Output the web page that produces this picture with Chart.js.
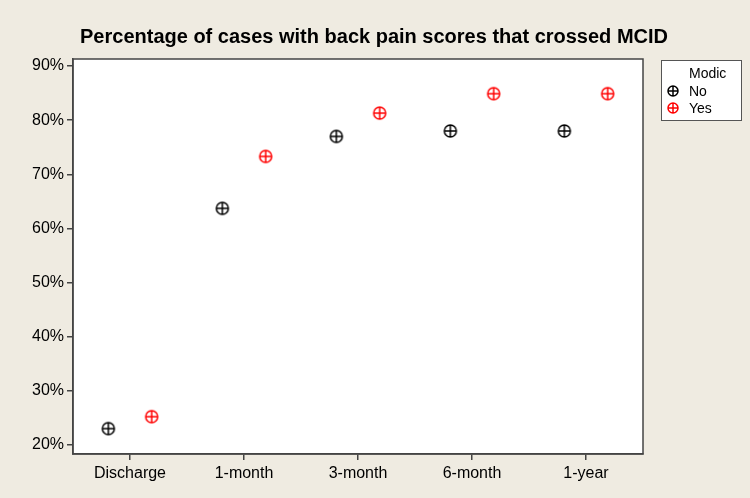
<!DOCTYPE html>
<html>
<head>
<meta charset="utf-8">
<script src="https://cdn.jsdelivr.net/npm/chart.js@4/dist/chart.umd.min.js"></script>
<style>
  html, body { margin: 0; padding: 0; background: #EFEBE1; }
  #wrap { width: 750px; height: 498px; }
</style>
</head>
<body>
<div id="wrap"><canvas id="chart" width="750" height="498"></canvas></div>
<script>
// --- Data ---
const categories = ['Discharge', '1-month', '3-month', '6-month', '1-year'];
const noValues = [23.0, 63.7, 77.0, 78.0, 78.0];
const yesValues = [25.2, 73.3, 81.3, 84.9, 84.9];
const yTicks = [20, 30, 40, 50, 60, 70, 80, 90];
const seriesNames = ['No', 'Yes'];
const legendTitle = 'Modic';
const chartTitle = 'Percentage of cases with back pain scores that crossed MCID';

const dodge = 0.19;
const font = '"Liberation Sans", Arial, sans-serif';

// circle with a plus inside, like the Minitab symbol
function makeMarker(color, r) {
    const c = document.createElement('canvas');
    const s = r * 2 + 4;
    c.width = s; c.height = s;
    const ctx = c.getContext('2d');
    const m = s / 2;
    ctx.strokeStyle = color;
    ctx.lineWidth = 1.5;
    ctx.beginPath();
    ctx.arc(m, m, r, 0, Math.PI * 2);
    ctx.moveTo(m - r, m); ctx.lineTo(m + r, m);
    ctx.moveTo(m, m - r); ctx.lineTo(m, m + r);
    ctx.stroke();
    return c;
}

const colors = ['#000000', '#FF0000'];
const markers = colors.map(c => makeMarker(c, 6));
const legendMarkers = colors.map(c => makeMarker(c, 5));

const toPoints = (vals, off) => vals.map((v, i) => ({ x: i + 1 + off, y: v }));

// --- Plugin: background, plot frame, title, legend ---
const decor = {
    id: 'decor',
    beforeDraw(chart) {
        const { ctx, chartArea: a } = chart;
        ctx.save();
        ctx.fillStyle = '#EFEBE1';
        ctx.fillRect(0, 0, chart.width, chart.height);
        ctx.fillStyle = '#FFFFFF';
        ctx.fillRect(a.left, a.top, a.right - a.left, a.bottom - a.top);
        ctx.restore();
    },
    afterDraw(chart) {
        const { ctx, chartArea: a } = chart;
        ctx.save();
        ctx.strokeStyle = '#444';
        ctx.lineWidth = 1.5;
        ctx.strokeRect(a.left, a.top, a.right - a.left, a.bottom - a.top);

        // title
        ctx.fillStyle = '#000';
        ctx.font = 'bold 20px ' + font;
        ctx.textAlign = 'center';
        ctx.textBaseline = 'middle';
        ctx.fillText(chartTitle, 374, 37);

        // legend
        ctx.fillStyle = '#FFFFFF';
        ctx.fillRect(661, 60, 80, 60);
        ctx.strokeStyle = '#555';
        ctx.lineWidth = 1;
        ctx.strokeRect(661.5, 60.5, 80, 60);
        ctx.font = '14px ' + font;
        ctx.textAlign = 'left';
        ctx.fillStyle = '#000';
        ctx.fillText(legendTitle, 689, 74);
        chart.data.datasets.forEach((ds, i) => {
            const y = 91 + i * 17;
            const mk = legendMarkers[i];
            ctx.drawImage(mk, 673 - mk.width / 2, y - mk.height / 2);
            ctx.fillStyle = '#000';
            ctx.fillText(ds.label, 689, y + 1);
        });
        ctx.restore();
    }
};

new Chart(document.getElementById('chart'), {
    type: 'scatter',
    data: {
        datasets: [
            {
                label: seriesNames[0],
                data: toPoints(noValues, -dodge),
                pointStyle: markers[0],
                borderColor: colors[0],
                backgroundColor: colors[0]
            },
            {
                label: seriesNames[1],
                data: toPoints(yesValues, dodge),
                pointStyle: markers[1],
                borderColor: colors[1],
                backgroundColor: colors[1]
            }
        ]
    },
    options: {
        responsive: false,
        animation: false,
        devicePixelRatio: 1,
        layout: { padding: { top: 59, right: 107, left: 0, bottom: 0 } },
        plugins: {
            legend: { display: false },
            title: { display: false },
            tooltip: { enabled: false }
        },
        scales: {
            x: {
                type: 'linear',
                min: 0.5,
                max: 5.5,
                afterBuildTicks: (scale) => {
                    scale.ticks = categories.map((c, i) => ({ value: i + 1 }));
                },
                afterFit: (scale) => { scale.height = 44; },
                ticks: {
                    color: '#000',
                    font: { family: font, size: 16 },
                    padding: 4,
                    maxRotation: 0,
                    autoSkip: false,
                    callback: (v) => categories[Math.round(v) - 1]
                },
                grid: { drawOnChartArea: false, drawTicks: true, tickLength: 6, color: '#444', lineWidth: 1.5 },
                border: { display: true, color: '#444', width: 1.5 }
            },
            y: {
                min: 18.3,
                max: 91.3,
                afterBuildTicks: (scale) => {
                    scale.ticks = yTicks.map(v => ({ value: v }));
                },
                afterFit: (scale) => { scale.width = 73; },
                ticks: {
                    color: '#000',
                    font: { family: font, size: 16 },
                    padding: 3,
                    autoSkip: false,
                    callback: (v) => v + '%'
                },
                grid: { drawOnChartArea: false, drawTicks: true, tickLength: 6, color: '#444', lineWidth: 1.5 },
                border: { display: true, color: '#444', width: 1.5 }
            }
        }
    },
    plugins: [decor]
});
</script>
</body>
</html>
